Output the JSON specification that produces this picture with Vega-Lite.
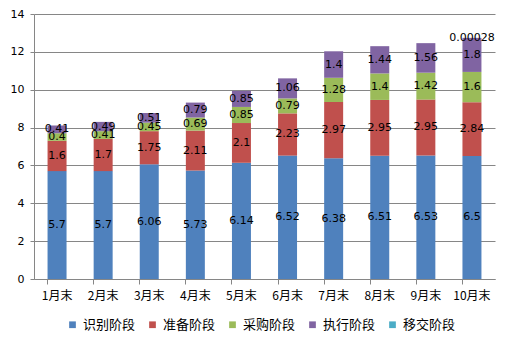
{
  "$schema": "https://vega.github.io/schema/vega-lite/v6.json",
  "width": 461,
  "height": 265,
  "autosize": {"type": "none"},
  "padding": {"left": 34, "top": 14, "right": 15, "bottom": 68},
  "background": "white",
  "config": {
    "view": {"stroke": null},
    "font": "DejaVu Sans"
  },
  "data": {
    "values": [
      {"month": "1月末", "stage": "识别阶段", "seq": 1, "v": 5.7},
      {"month": "1月末", "stage": "准备阶段", "seq": 2, "v": 1.6},
      {"month": "1月末", "stage": "采购阶段", "seq": 3, "v": 0.4},
      {"month": "1月末", "stage": "执行阶段", "seq": 4, "v": 0.41},
      {"month": "2月末", "stage": "识别阶段", "seq": 1, "v": 5.7},
      {"month": "2月末", "stage": "准备阶段", "seq": 2, "v": 1.7},
      {"month": "2月末", "stage": "采购阶段", "seq": 3, "v": 0.41},
      {"month": "2月末", "stage": "执行阶段", "seq": 4, "v": 0.49},
      {"month": "3月末", "stage": "识别阶段", "seq": 1, "v": 6.06},
      {"month": "3月末", "stage": "准备阶段", "seq": 2, "v": 1.75},
      {"month": "3月末", "stage": "采购阶段", "seq": 3, "v": 0.45},
      {"month": "3月末", "stage": "执行阶段", "seq": 4, "v": 0.51},
      {"month": "4月末", "stage": "识别阶段", "seq": 1, "v": 5.73},
      {"month": "4月末", "stage": "准备阶段", "seq": 2, "v": 2.11},
      {"month": "4月末", "stage": "采购阶段", "seq": 3, "v": 0.69},
      {"month": "4月末", "stage": "执行阶段", "seq": 4, "v": 0.79},
      {"month": "5月末", "stage": "识别阶段", "seq": 1, "v": 6.14},
      {"month": "5月末", "stage": "准备阶段", "seq": 2, "v": 2.1},
      {"month": "5月末", "stage": "采购阶段", "seq": 3, "v": 0.85},
      {"month": "5月末", "stage": "执行阶段", "seq": 4, "v": 0.85},
      {"month": "6月末", "stage": "识别阶段", "seq": 1, "v": 6.52},
      {"month": "6月末", "stage": "准备阶段", "seq": 2, "v": 2.23},
      {"month": "6月末", "stage": "采购阶段", "seq": 3, "v": 0.79},
      {"month": "6月末", "stage": "执行阶段", "seq": 4, "v": 1.06},
      {"month": "7月末", "stage": "识别阶段", "seq": 1, "v": 6.38},
      {"month": "7月末", "stage": "准备阶段", "seq": 2, "v": 2.97},
      {"month": "7月末", "stage": "采购阶段", "seq": 3, "v": 1.28},
      {"month": "7月末", "stage": "执行阶段", "seq": 4, "v": 1.4},
      {"month": "8月末", "stage": "识别阶段", "seq": 1, "v": 6.51},
      {"month": "8月末", "stage": "准备阶段", "seq": 2, "v": 2.95},
      {"month": "8月末", "stage": "采购阶段", "seq": 3, "v": 1.4},
      {"month": "8月末", "stage": "执行阶段", "seq": 4, "v": 1.44},
      {"month": "9月末", "stage": "识别阶段", "seq": 1, "v": 6.53},
      {"month": "9月末", "stage": "准备阶段", "seq": 2, "v": 2.95},
      {"month": "9月末", "stage": "采购阶段", "seq": 3, "v": 1.42},
      {"month": "9月末", "stage": "执行阶段", "seq": 4, "v": 1.56},
      {"month": "10月末", "stage": "识别阶段", "seq": 1, "v": 6.5},
      {"month": "10月末", "stage": "准备阶段", "seq": 2, "v": 2.84},
      {"month": "10月末", "stage": "采购阶段", "seq": 3, "v": 1.6},
      {"month": "10月末", "stage": "执行阶段", "seq": 4, "v": 1.8},
      {"month": "10月末", "stage": "移交阶段", "seq": 5, "v": 0.00028}
    ]
  },
  "encoding": {
    "x": {
      "field": "month",
      "type": "nominal",
      "sort": null,
      "scale": {"paddingInner": 0.588, "paddingOuter": 0.294},
      "axis": {
        "title": null,
        "labelAngle": 0,
        "labelFont": "Noto Sans CJK SC",
        "labelFontSize": 12,
        "labelColor": "#000000",
        "labelPadding": 6,
        "domainColor": "#868686",
        "tickColor": "#868686",
        "tickSize": 5,
        "bandPosition": 0,
        "grid": false
      }
    },
    "y": {
      "field": "v",
      "type": "quantitative",
      "stack": "zero",
      "scale": {"domain": [0, 14], "nice": false},
      "axis": {
        "title": null,
        "values": [0, 2, 4, 6, 8, 10, 12, 14],
        "labelOverlap": false,
        "labelFontSize": 11,
        "labelColor": "#000000",
        "labelPadding": 6,
        "gridColor": "#868686",
        "gridWidth": 1,
        "domainColor": "#868686",
        "tickColor": "#868686",
        "tickSize": 4
      }
    },
    "order": {"field": "seq", "type": "quantitative", "sort": "ascending"}
  },
  "layer": [
    {
      "mark": {"type": "bar"},
      "encoding": {
        "color": {
          "field": "stage",
          "type": "nominal",
          "scale": {
            "domain": ["识别阶段", "准备阶段", "采购阶段", "执行阶段", "移交阶段"],
            "range": ["#4F81BD", "#C0504D", "#9BBB59", "#8064A2", "#4BACC6"]
          },
          "legend": {
            "title": null,
            "orient": "none",
            "legendX": 32,
            "legendY": 304,
            "direction": "horizontal",
            "symbolType": "square",
            "symbolSize": 45,
            "symbolStrokeWidth": 0,
            "labelFont": "Noto Sans CJK SC",
            "labelFontSize": 13,
            "labelColor": "#000000",
            "labelOffset": 4,
            "columnPadding": 10
          }
        }
      }
    },
    {
      "mark": {"type": "text", "fontSize": 11, "color": "#000000", "font": "DejaVu Sans"},
      "encoding": {
        "y": {
          "field": "v",
          "type": "quantitative",
          "stack": "zero",
          "bandPosition": 0.5
        },
        "detail": {"field": "stage"},
        "text": {"field": "v", "type": "quantitative"}
      }
    }
  ]
}
